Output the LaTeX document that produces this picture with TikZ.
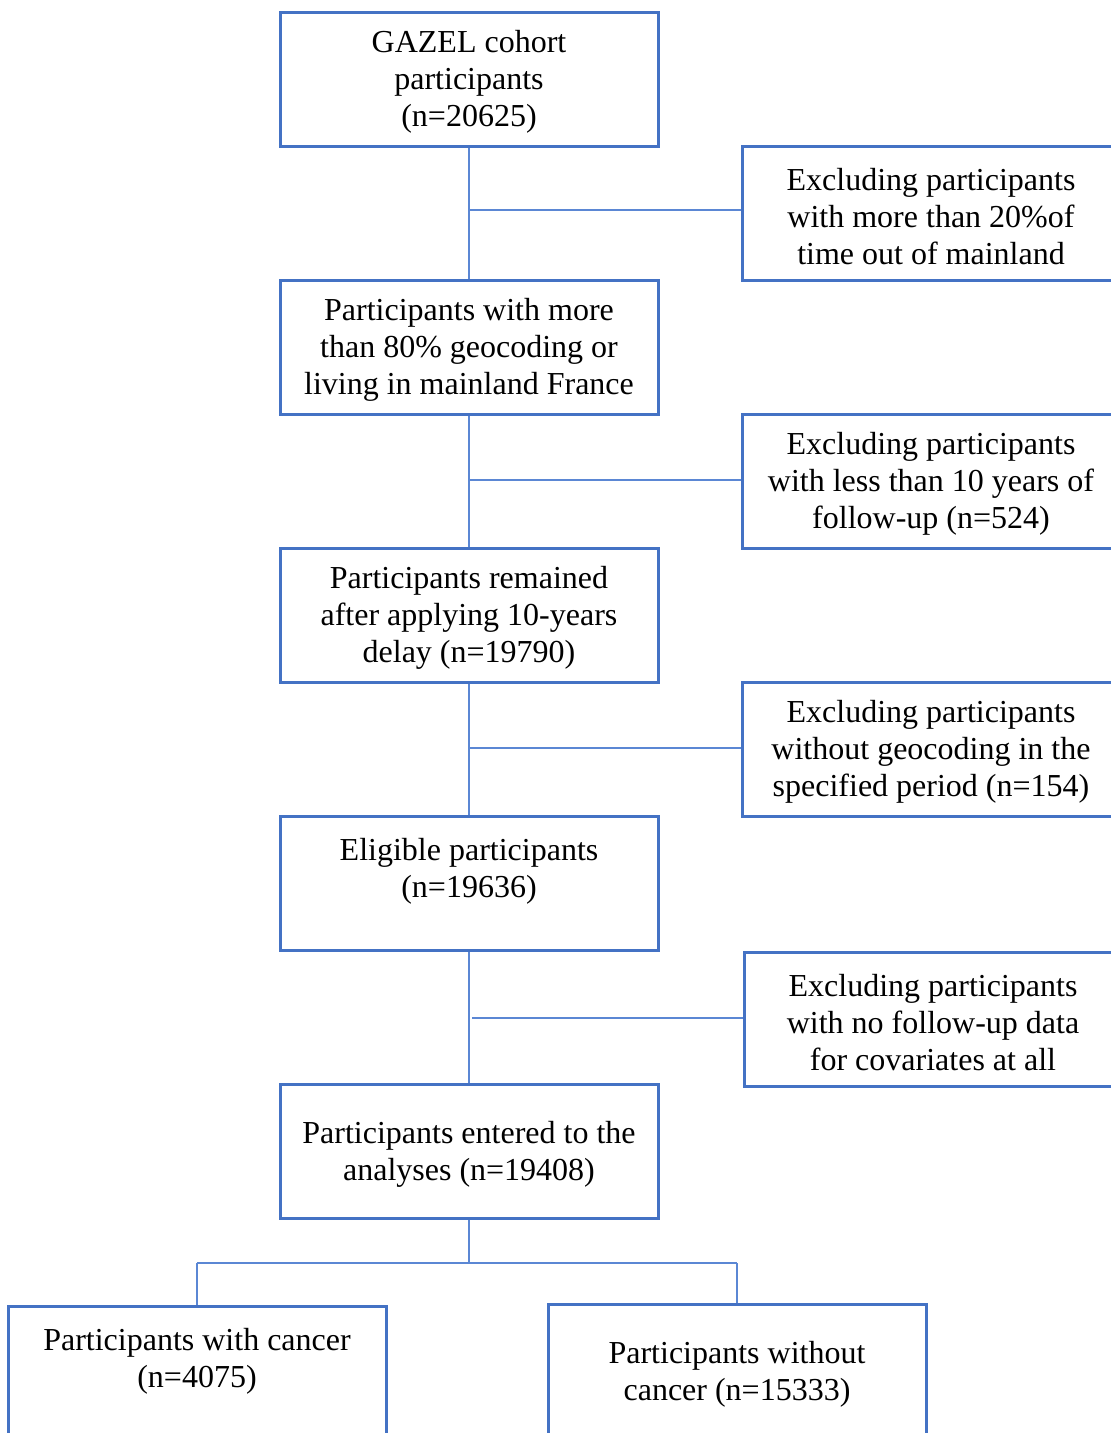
\documentclass[tikz,border=0pt]{standalone}
\usepackage{fontspec}
\setmainfont{Liberation Serif}
\definecolor{boxblue}{HTML}{4472C4}
\definecolor{lineblue}{HTML}{5B87D4}
\newcommand{\toplift}{\rule{0pt}{28.5pt}}
\begin{document}
\begin{tikzpicture}[x=1pt,y=-1pt,
  flowbox/.style={draw=boxblue, line width=3pt, rectangle, minimum width=378pt,
    minimum height=134pt, inner sep=0pt, align=center,
    font=\fontsize{32}{37}\selectfont},
  conn/.style={draw=lineblue, line width=1.4pt}]
\useasboundingbox (0,0) rectangle (1111,1433);
\clip (0,0) rectangle (1111,1433);
\node[flowbox] (b1) at (469,79) {\toplift GAZEL cohort\\participants\\(n=20625)};
\node[flowbox] (r1) at (931,213) {\toplift Excluding participants\\with more than 20\%of\\time out of mainland};
\node[flowbox] (b2) at (469,347) {\toplift Participants with more\\than 80\% geocoding or\\living in mainland France};
\node[flowbox] (r2) at (931,481) {\toplift Excluding participants\\with less than 10 years of\\follow-up (n=524)};
\node[flowbox] (b3) at (469,615) {\toplift Participants remained\\after applying 10-years\\delay (n=19790)};
\node[flowbox] (r3) at (931,749) {\toplift Excluding participants\\without geocoding in the\\specified period (n=154)};
\node[flowbox] (b4) at (469,883) {\toplift Eligible participants\\(n=19636)\\\mbox{}};
\node[flowbox] (r4) at (933,1019) {\toplift Excluding participants\\with no follow-up data\\for covariates at all};
\node[flowbox] (b5) at (469,1151) {\toplift Participants entered to the\\analyses (n=19408)};
\node[flowbox] (c1) at (197,1373) {\toplift Participants with cancer\\(n=4075)\\\mbox{}};
\node[flowbox] (c2) at (737,1371) {\toplift Participants without\\cancer (n=15333)};
\coordinate (split) at (469,1263);
\draw[conn] (b1.south) -- (b2.north);
\draw[conn] (b2.south) -- (b3.north);
\draw[conn] (b3.south) -- (b4.north);
\draw[conn] (b4.south) -- (b5.north);
\draw[conn] (b1.south |- 0,210) -- (r1.west |- 0,210);
\draw[conn] (b2.south |- 0,480) -- (r2.west |- 0,480);
\draw[conn] (b3.south |- 0,748) -- (r3.west |- 0,748);
\draw[conn] ([xshift=3pt]b4.south |- 0,1018) -- (r4.west |- 0,1018);
\draw[conn] (b5.south) -- (split);
\draw[conn] (c1.north |- split) -- (c2.north |- split);
\draw[conn] (c1.north |- split) -- (c1.north);
\draw[conn] (c2.north |- split) -- (c2.north);
\end{tikzpicture}
\end{document}
